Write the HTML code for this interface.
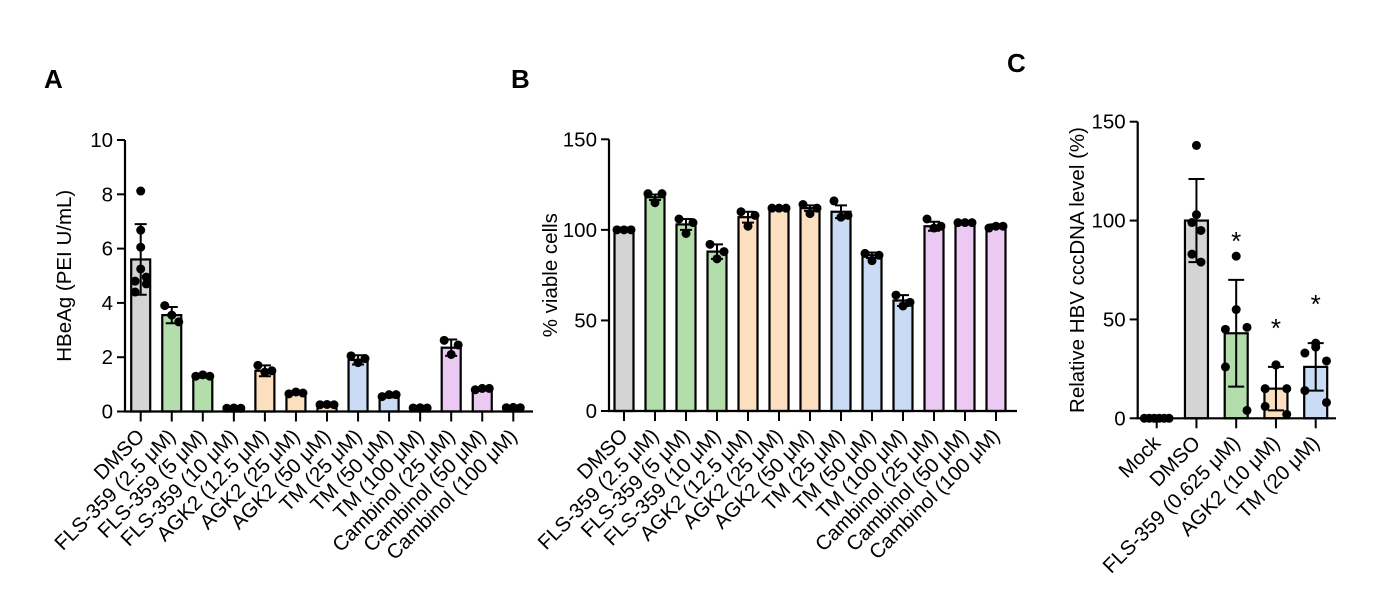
<!DOCTYPE html>
<html><head><meta charset="utf-8">
<style>
html,body{margin:0;padding:0;background:#fff;}
svg{display:block;font-family:"Liberation Sans",Arial,sans-serif;}
</style></head>
<body>
<svg id="fig" width="1378" height="605" viewBox="0 0 1378 605" xmlns="http://www.w3.org/2000/svg">
<text x="44" y="88" font-size="26" font-weight="bold">A</text>
<text x="511" y="88" font-size="26" font-weight="bold">B</text>
<text x="1007" y="72" font-size="26" font-weight="bold">C</text>
</svg>
<script>
// Panel A data
const catsA = ["DMSO","FLS-359 (2.5 μM)","FLS-359 (5 μM)","FLS-359 (10 μM)","AGK2 (12.5 μM)","AGK2 (25 μM)","AGK2 (50 μM)","TM (25 μM)","TM (50 μM)","TM (100 μM)","Cambinol (25 μM)","Cambinol (50 μM)","Cambinol (100 μM)"];
const meansA = [5.6,3.55,1.3,0.12,1.5,0.68,0.25,1.9,0.58,0.13,2.35,0.82,0.14];
const sdA = [1.3,0.3,0.05,0.02,0.2,0.05,0.03,0.17,0.06,0.02,0.3,0.03,0.02];
const ptsA = [[8.12,6.68,6.05,5.25,4.8,4.95,4.7,4.4],[3.9,3.55,3.3],[1.3,1.35,1.3],[0.12,0.13,0.12],[1.7,1.45,1.5],[0.65,0.72,0.68],[0.25,0.26,0.25],[2.05,1.8,1.95],[0.55,0.62,0.62],[0.13,0.14,0.13],[2.62,2.1,2.45],[0.8,0.85,0.85],[0.14,0.15,0.14]];
const ticksA = [0,2,4,6,8,10];
// Panel B data
const meansB = [100,118,103,88,107,112,112,110,86,61,102,104,102];
const sdB = [0.3,1.5,3,4,3,0.5,1.5,3.5,1.5,3,2.5,0.3,1];
const ptsB = [[100,100,100],[120,115,120],[106,98,104],[92,84,88],[110,102,108],[112,112,112],[114,109,112],[116,107,108],[87,83,86],[64,58,60],[106,101,102],[104,104,104],[101,102,102]];
const ticksB = [0,50,100,150];
// Panel C data
const catsC = ["Mock","DMSO","FLS-359 (0.625 μM)","AGK2 (10 μM)","TM (20 μM)"];
const meansC = [0,100,43,15,26];
const sdC = [0,21,27,11,12];
const ptsC = [[0,0,0,0,0,0],[138,103,99,95,83,79],[82,55,45,46,26,4],[27,27,15,15,6,2],[38,36,33,29,14,8]];
const starsC = [false,false,true,true,true];
const ticksC = [0,50,100,150];

const colorsA = ["#d4d4d4","#b3deac","#b3deac","#b3deac","#fbdfbf","#fbdfbf","#fbdfbf","#c9dbf5","#c9dbf5","#c9dbf5","#ecc9f3","#ecc9f3","#ecc9f3"];
const colorsC = ["#d4d4d4","#d4d4d4","#b3deac","#fbdfbf","#c9dbf5"];

const svg = document.getElementById('fig');
const NS = "http://www.w3.org/2000/svg";
function mk(tag, attrs, parent){const e=document.createElementNS(NS,tag);for(const k in attrs)e.setAttribute(k,attrs[k]);(parent||svg).appendChild(e);return e;}

function panel(cfg){
  const g = mk('g',{});
  
  
  const y = v => cfg.y0 - (v - 0) / cfg.max * (cfg.y0 - cfg.yTop);
  const x = i => cfg.x0 + i * cfg.step;
  cfg.means.forEach((m,i)=>{
    const r = mk('rect',{x:x(i)-cfg.bw/2,y:y(m),width:cfg.bw,height:Math.max(0,y(0)-y(m)),fill:cfg.colors[i],stroke:'#000','stroke-width':2.2},g);
    
    
  });
  cfg.means.forEach((m,i)=>{
    const s=cfg.sd[i]; if(s<=0) return;
    const top=y(m+s), bot=y(m-s), cx=x(i), cw=cfg.cap;
    const e = mk('path',{d:`M${cx},${top}V${bot}M${cx-cw},${top}H${cx+cw}M${cx-cw},${bot}H${cx+cw}`,stroke:'#000','stroke-width':2,fill:'none'},g);
    
    
  });
  cfg.pts.forEach((arr,i)=>{
    const n=arr.length;
    arr.forEach((v,j)=>{
      let off;
      if(n===3) off=[-1,0,1][j]*cfg.jit;
      else if(n===6) off=[0,0,-0.5,0.5,-0.5,0.5][j]*cfg.jit;
      else off=[0,0,0,0,-1,1,1,-1][j]*cfg.jit*0.8;
      if(cfg.name==='panel-c' && i===0) off=(j-2.5)*cfg.jit*0.55;
      if(cfg.name==='panel-c' && i>1) off=[0,0,-1,1,-1,1][j]*cfg.jit*1.2;
      const c = mk('circle',{cx:x(i)+off,cy:y(v),r:4.5,fill:'#000'},g);
      
      
    });
  });
  const ax = mk('path',{d:`M${cfg.ax},${cfg.yTop}V${cfg.y0}H${cfg.axEnd}`,stroke:'#000','stroke-width':2.2,fill:'none'},g);
  
  
  cfg.ticks.forEach(t=>{
    mk('line',{x1:cfg.ax-8,x2:cfg.ax,y1:y(t),y2:y(t),stroke:'#000','stroke-width':2},g);
    const tl = mk('text',{x:cfg.ax-12,y:y(t)+7,'text-anchor':'end','font-size':20.5,fill:'#000'},g);
    tl.textContent=t;
    
    
  });
  cfg.cats.forEach((c,i)=>{
    mk('line',{x1:x(i),x2:x(i),y1:cfg.y0,y2:cfg.y0+10,stroke:'#000','stroke-width':2},g);
    const tl = mk('text',{x:x(i)+5,y:cfg.y0+26,'text-anchor':'end','font-size':20.5,fill:'#000',transform:`rotate(-45 ${x(i)+5} ${cfg.y0+26})`},g);
    tl.textContent=c;
    
    
  });
  if(cfg.stars){
    cfg.stars.forEach((s,i)=>{ if(!s) return;
      const st = mk('text',{x:x(i),y:y(cfg.means[i]+cfg.sd[i])-30,'text-anchor':'middle','font-size':26,fill:'#000'},g);
      st.textContent='*';
      
      
    });
  }
  const cy=(cfg.yTop+cfg.y0)/2;
  const tt = mk('text',{x:cfg.titleX,y:cy,'text-anchor':'middle','font-size':20.5,fill:'#000',transform:`rotate(-90 ${cfg.titleX} ${cy})`},g);
  tt.textContent=cfg.title;
  
  
}

panel({name:'panel-a',cats:catsA,means:meansA,sd:sdA,pts:ptsA,ticks:ticksA,colors:colorsA,max:10,y0:411.5,yTop:140,x0:140.7,step:31.05,bw:19,cap:6,jit:7,ax:125,axEnd:533,titleX:71,title:"HBeAg (PEI U/mL)"});
panel({name:'panel-b',cats:catsA,means:meansB,sd:sdB,pts:ptsB,ticks:ticksB,colors:colorsA,max:150,y0:411,yTop:139.3,x0:624,step:31,bw:19,cap:6,jit:7,ax:609,axEnd:1017,titleX:557,title:"% viable cells"});
panel({name:'panel-c',cats:catsC,means:meansC,sd:sdC,pts:ptsC,ticks:ticksC,colors:colorsC,max:150,y0:418.3,yTop:121.7,x0:1156.7,step:39.75,bw:23,cap:8,jit:9,ax:1137.7,axEnd:1336,titleX:1084,title:"Relative HBV cccDNA level (%)",stars:starsC});
</script>
</body></html>
